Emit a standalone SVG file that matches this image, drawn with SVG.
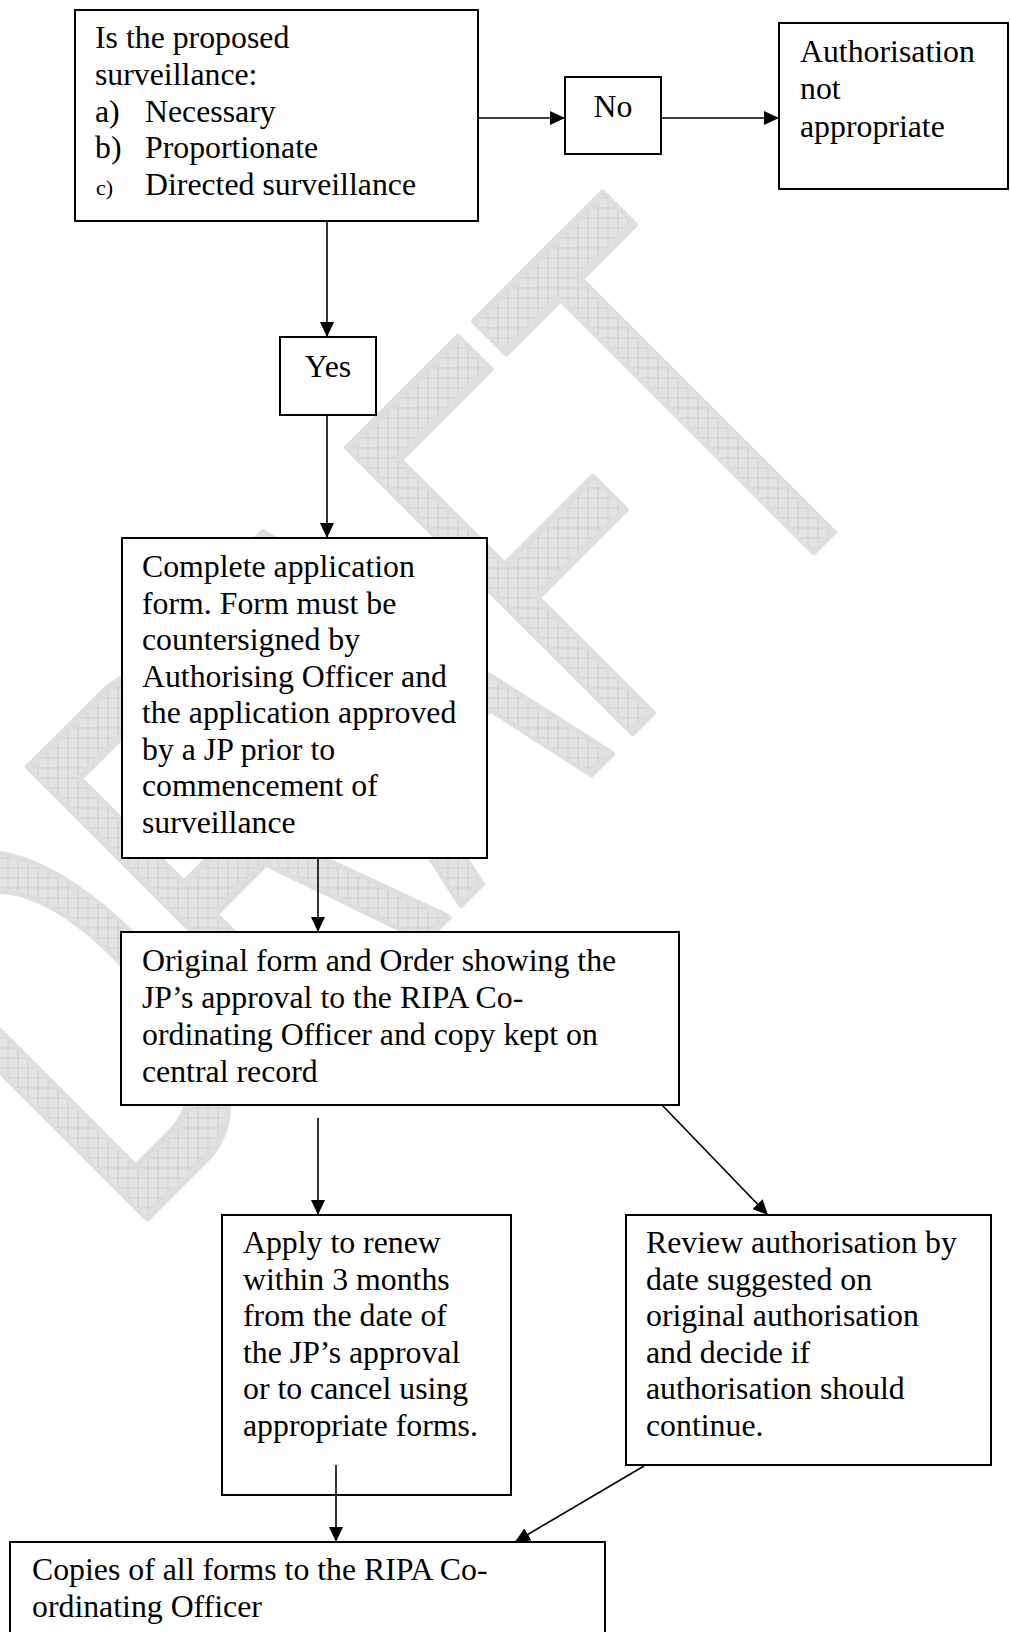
<svg xmlns="http://www.w3.org/2000/svg" width="1010" height="1632" viewBox="0 0 1010 1632">
<defs>
<pattern id="hatch" patternUnits="userSpaceOnUse" width="10" height="10" patternTransform="scale(1,0.5556) rotate(45)">
<rect width="10" height="10" fill="#e3e3e3"/>
<path d="M0,0.5 H10 M0.5,0 V10" stroke="#cdcdcd" stroke-width="1" fill="none"/>
</pattern>
<marker id="arr" markerUnits="userSpaceOnUse" markerWidth="15" markerHeight="14" refX="15" refY="7" orient="auto">
<path d="M0,0 L15,7 L0,14 z" fill="#000"/>
</marker>
<style>
.box{fill:#fff;stroke:#000;stroke-width:2}
.t{font-family:"Liberation Serif","Times New Roman",serif;font-size:31.8px;fill:#000}
.s{font-family:"Liberation Serif","Times New Roman",serif;font-size:22px;fill:#000}
.c{stroke:#000;stroke-width:1.6;fill:none;marker-end:url(#arr)}
.wm{font-family:"Liberation Sans",Arial,sans-serif;font-size:325px;fill:url(#hatch);stroke:#dedede;stroke-width:4;stroke-linejoin:round}
</style>
</defs>
<rect width="1010" height="1632" fill="#fff"/>
<g id="watermark" transform="translate(127.5,1237.5) rotate(-45) scale(1,1.8)">
<text class="wm" x="0" y="0">DRAFT</text>
</g>
<g id="n1">
<rect class="box" x="75" y="10" width="403" height="211"/>
<text class="t" x="95" y="48">Is the proposed</text>
<text class="t" x="95" y="85">surveillance:</text>
<text class="t" x="95" y="122">a)</text><text class="t" x="145" y="122">Necessary</text>
<text class="t" x="95" y="158">b)</text><text class="t" x="145" y="158">Proportionate</text>
<text class="s" x="96" y="195">c)</text><text class="t" x="145" y="195">Directed surveillance</text>
</g>
<g id="n_no">
<rect class="box" x="565" y="77" width="96" height="77"/>
<text class="t" x="613" y="117" text-anchor="middle">No</text>
</g>
<g id="n_auth">
<rect class="box" x="779" y="23" width="229" height="166"/>
<text class="t" x="800" y="62">Authorisation</text>
<text class="t" x="800" y="99">not</text>
<text class="t" x="800" y="137">appropriate</text>
</g>
<g id="n_yes">
<rect class="box" x="280" y="337" width="96" height="78"/>
<text class="t" x="328" y="377" text-anchor="middle">Yes</text>
</g>
<g id="n_complete">
<rect class="box" x="122" y="538" width="365" height="320"/>
<text class="t" x="142" y="577">Complete application</text>
<text class="t" x="142" y="613.5">form. Form must be</text>
<text class="t" x="142" y="650">countersigned by</text>
<text class="t" x="142" y="686.5">Authorising Officer and</text>
<text class="t" x="142" y="723">the application approved</text>
<text class="t" x="142" y="759.5">by a JP prior to</text>
<text class="t" x="142" y="796">commencement of</text>
<text class="t" x="142" y="832.5">surveillance</text>
</g>
<g id="n_original">
<rect class="box" x="121" y="932" width="558" height="173"/>
<text class="t" x="142" y="971">Original form and Order showing the</text>
<text class="t" x="142" y="1008">JP’s approval to the RIPA Co-</text>
<text class="t" x="142" y="1045">ordinating Officer and copy kept on</text>
<text class="t" x="142" y="1082">central record</text>
</g>
<g id="n_apply">
<rect class="box" x="222" y="1215" width="289" height="280"/>
<text class="t" x="243" y="1253">Apply to renew</text>
<text class="t" x="243" y="1289.5">within 3 months</text>
<text class="t" x="243" y="1326">from the date of</text>
<text class="t" x="243" y="1362.5">the JP’s approval</text>
<text class="t" x="243" y="1399">or to cancel using</text>
<text class="t" x="243" y="1435.5">appropriate forms.</text>
</g>
<g id="n_review">
<rect class="box" x="626" y="1215" width="365" height="250"/>
<text class="t" x="646" y="1253">Review authorisation by</text>
<text class="t" x="646" y="1289.5">date suggested on</text>
<text class="t" x="646" y="1326">original authorisation</text>
<text class="t" x="646" y="1362.5">and decide if</text>
<text class="t" x="646" y="1399">authorisation should</text>
<text class="t" x="646" y="1435.5">continue.</text>
</g>
<g id="n_copies">
<rect class="box" x="10" y="1542" width="595" height="110"/>
<text class="t" x="32" y="1580">Copies of all forms to the RIPA Co-</text>
<text class="t" x="32" y="1617">ordinating Officer</text>
</g>
<g id="connectors">
<line class="c" x1="478" y1="118" x2="565" y2="118"/>
<line class="c" x1="661" y1="118" x2="779" y2="118"/>
<line class="c" x1="327" y1="221" x2="327" y2="337"/>
<line class="c" x1="327" y1="415" x2="327" y2="538"/>
<line class="c" x1="318" y1="858" x2="318" y2="932"/>
<line class="c" x1="318" y1="1118" x2="318" y2="1215"/>
<line class="c" x1="662" y1="1105" x2="768" y2="1215"/>
<line class="c" x1="336" y1="1465" x2="336" y2="1542"/>
<line class="c" x1="644" y1="1466" x2="515" y2="1542"/>
</g>
</svg>
